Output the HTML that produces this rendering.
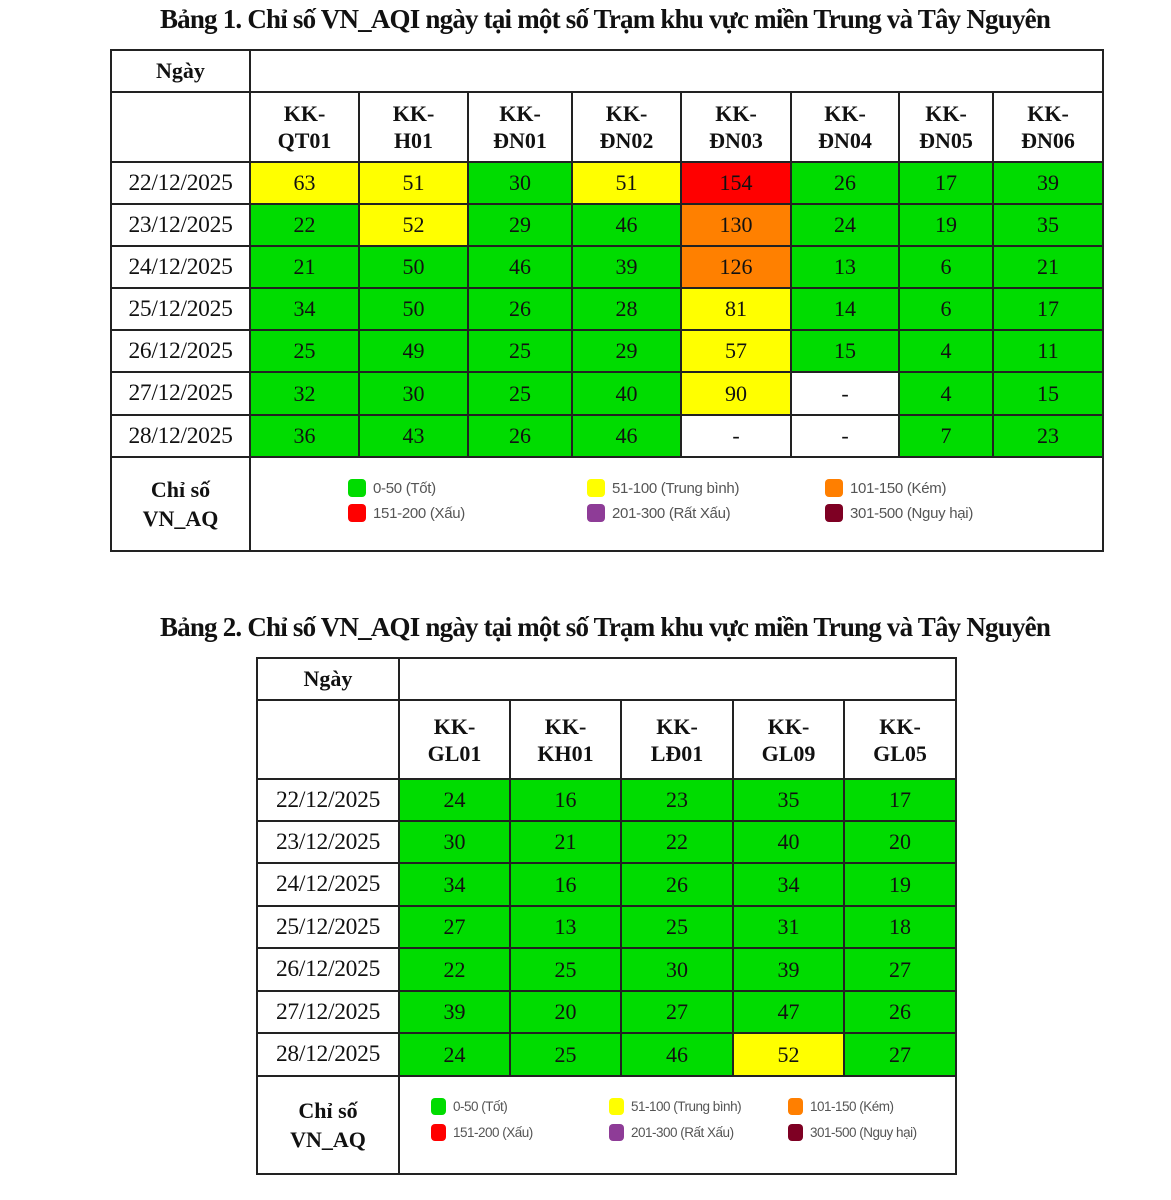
<!DOCTYPE html>
<html><head><meta charset="utf-8"><style>
body{margin:0;width:1171px;height:1200px;background:#fff;position:relative;font-family:"Liberation Serif",serif;color:#111;overflow:hidden}
.title{position:absolute;left:0;width:1210px;text-align:center;font-weight:bold;font-size:27px;letter-spacing:-0.8px}
table{position:absolute;border-collapse:collapse;table-layout:fixed}
td{border:2px solid #222;text-align:center;font-size:22px;padding:0;overflow:hidden}
td.d{font-size:23.5px;letter-spacing:-0.3px}
.h td{font-weight:bold;line-height:27px}
.b{font-weight:bold}
.g{background:#00dc00}.y{background:#ffff00}.r{background:#ff0000}.o{background:#ff8000}
.lg{position:absolute;font-family:"Liberation Sans",sans-serif;color:#555;font-size:15px;white-space:nowrap;letter-spacing:-0.3px}
.lg i{display:inline-block;width:18px;height:18px;border-radius:4px;vertical-align:-4px;margin-right:7px}
.lg2{font-size:13.5px;letter-spacing:-0.5px}
.lg2 i{width:15px;height:17px}
</style></head><body>
<div class="title" style="top:4px">Bảng 1. Chỉ số VN_AQI ngày tại một số Trạm khu vực miền Trung và Tây Nguyên</div>
<table style="left:110px;top:49px;width:993px">
<colgroup><col style="width:139px"><col style="width:109px"><col style="width:109px"><col style="width:104px"><col style="width:109px"><col style="width:110px"><col style="width:108px"><col style="width:94px"><col style="width:110px"></colgroup>
<tr style="height:42px"><td class="b">Ngày</td><td colspan="8"></td></tr>
<tr class="h" style="height:70px"><td></td><td>KK-<br>QT01</td><td>KK-<br>H01</td><td>KK-<br>ĐN01</td><td>KK-<br>ĐN02</td><td>KK-<br>ĐN03</td><td>KK-<br>ĐN04</td><td>KK-<br>ĐN05</td><td>KK-<br>ĐN06</td></tr>
<tr style="height:42px"><td class="d">22/12/2025</td><td class="y">63</td><td class="y">51</td><td class="g">30</td><td class="y">51</td><td class="r">154</td><td class="g">26</td><td class="g">17</td><td class="g">39</td></tr>
<tr style="height:42px"><td class="d">23/12/2025</td><td class="g">22</td><td class="y">52</td><td class="g">29</td><td class="g">46</td><td class="o">130</td><td class="g">24</td><td class="g">19</td><td class="g">35</td></tr>
<tr style="height:42px"><td class="d">24/12/2025</td><td class="g">21</td><td class="g">50</td><td class="g">46</td><td class="g">39</td><td class="o">126</td><td class="g">13</td><td class="g">6</td><td class="g">21</td></tr>
<tr style="height:42px"><td class="d">25/12/2025</td><td class="g">34</td><td class="g">50</td><td class="g">26</td><td class="g">28</td><td class="y">81</td><td class="g">14</td><td class="g">6</td><td class="g">17</td></tr>
<tr style="height:42px"><td class="d">26/12/2025</td><td class="g">25</td><td class="g">49</td><td class="g">25</td><td class="g">29</td><td class="y">57</td><td class="g">15</td><td class="g">4</td><td class="g">11</td></tr>
<tr style="height:43px"><td class="d">27/12/2025</td><td class="g">32</td><td class="g">30</td><td class="g">25</td><td class="g">40</td><td class="y">90</td><td>-</td><td class="g">4</td><td class="g">15</td></tr>
<tr style="height:42px"><td class="d">28/12/2025</td><td class="g">36</td><td class="g">43</td><td class="g">26</td><td class="g">46</td><td>-</td><td>-</td><td class="g">7</td><td class="g">23</td></tr>
<tr style="height:94px"><td class="b" style="line-height:29px">Chỉ số<br>VN_AQ</td><td colspan="8"></td></tr>
</table>
<div class="lg" style="left:348px;top:479px"><i style="background:#00dc00"></i>0-50 (Tốt)</div>
<div class="lg" style="left:348px;top:504px"><i style="background:#ff0000"></i>151-200 (Xấu)</div>
<div class="lg" style="left:587px;top:479px"><i style="background:#ffff00"></i>51-100 (Trung bình)</div>
<div class="lg" style="left:587px;top:504px"><i style="background:#8e3c97"></i>201-300 (Rất Xấu)</div>
<div class="lg" style="left:825px;top:479px"><i style="background:#ff7f00"></i>101-150 (Kém)</div>
<div class="lg" style="left:825px;top:504px"><i style="background:#7e0023"></i>301-500 (Nguy hại)</div>

<div class="title" style="top:612px">Bảng 2. Chỉ số VN_AQI ngày tại một số Trạm khu vực miền Trung và Tây Nguyên</div>
<table style="left:256px;top:657px;width:699px">
<colgroup><col style="width:142px"><col style="width:111px"><col style="width:111px"><col style="width:112px"><col style="width:111px"><col style="width:112px"></colgroup>
<tr style="height:42px"><td class="b">Ngày</td><td colspan="5"></td></tr>
<tr class="h" style="height:79px"><td></td><td>KK-<br>GL01</td><td>KK-<br>KH01</td><td>KK-<br>LĐ01</td><td>KK-<br>GL09</td><td>KK-<br>GL05</td></tr>
<tr style="height:42px"><td class="d">22/12/2025</td><td class="g">24</td><td class="g">16</td><td class="g">23</td><td class="g">35</td><td class="g">17</td></tr>
<tr style="height:42px"><td class="d">23/12/2025</td><td class="g">30</td><td class="g">21</td><td class="g">22</td><td class="g">40</td><td class="g">20</td></tr>
<tr style="height:43px"><td class="d">24/12/2025</td><td class="g">34</td><td class="g">16</td><td class="g">26</td><td class="g">34</td><td class="g">19</td></tr>
<tr style="height:42px"><td class="d">25/12/2025</td><td class="g">27</td><td class="g">13</td><td class="g">25</td><td class="g">31</td><td class="g">18</td></tr>
<tr style="height:43px"><td class="d">26/12/2025</td><td class="g">22</td><td class="g">25</td><td class="g">30</td><td class="g">39</td><td class="g">27</td></tr>
<tr style="height:42px"><td class="d">27/12/2025</td><td class="g">39</td><td class="g">20</td><td class="g">27</td><td class="g">47</td><td class="g">26</td></tr>
<tr style="height:43px"><td class="d">28/12/2025</td><td class="g">24</td><td class="g">25</td><td class="g">46</td><td class="y">52</td><td class="g">27</td></tr>
<tr style="height:98px"><td class="b" style="line-height:29px">Chỉ số<br>VN_AQ</td><td colspan="5"></td></tr>
</table>
<div class="lg lg2" style="left:431px;top:1098px"><i style="background:#00dc00"></i>0-50 (Tốt)</div>
<div class="lg lg2" style="left:431px;top:1124px"><i style="background:#ff0000"></i>151-200 (Xấu)</div>
<div class="lg lg2" style="left:609px;top:1098px"><i style="background:#ffff00"></i>51-100 (Trung bình)</div>
<div class="lg lg2" style="left:609px;top:1124px"><i style="background:#8e3c97"></i>201-300 (Rất Xấu)</div>
<div class="lg lg2" style="left:788px;top:1098px"><i style="background:#ff7f00"></i>101-150 (Kém)</div>
<div class="lg lg2" style="left:788px;top:1124px"><i style="background:#7e0023"></i>301-500 (Nguy hại)</div>
</body></html>
